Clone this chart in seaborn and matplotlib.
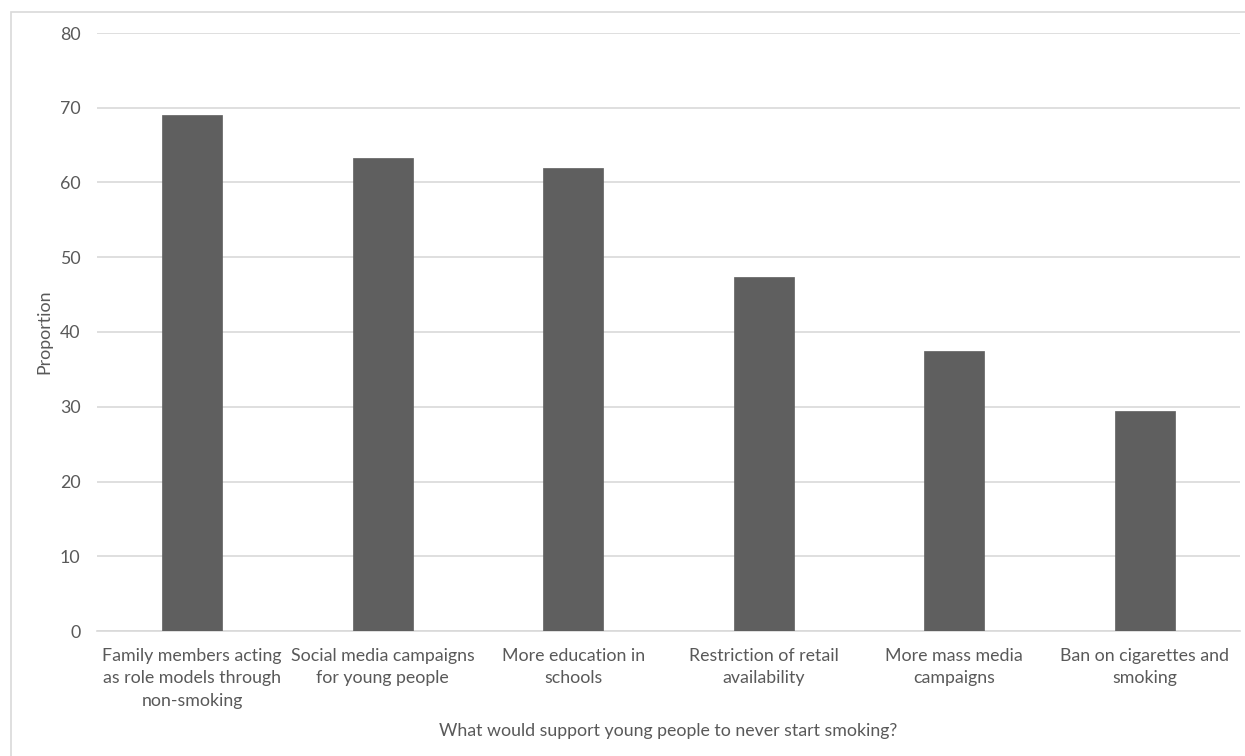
import matplotlib
matplotlib.use("Agg")
import matplotlib.pyplot as plt
import seaborn as sns
import pandas as pd
from matplotlib.patches import Rectangle

categories = [
    "Family members acting\nas role models through\nnon-smoking",
    "Social media campaigns\nfor young people",
    "More education in\nschools",
    "Restriction of retail\navailability",
    "More mass media\ncampaigns",
    "Ban on cigarettes and\nsmoking",
]
values = [69.0, 63.3, 61.9, 47.4, 37.5, 29.4]
y_ticks = [0, 10, 20, 30, 40, 50, 60, 70, 80]

sns.set_theme(style="white")
plt.rcParams["font.family"] = ["Lato", "DejaVu Sans"]

text_color = "#595959"
df = pd.DataFrame({"cat": categories, "val": values})

fig = plt.figure(figsize=(12.45, 7.56), dpi=100)
ax = fig.add_axes([97 / 1245, 1 - 631 / 756, (1240 - 97) / 1245, (631 - 33) / 756])

sns.barplot(data=df, x="cat", y="val", color="#5f5f5f", width=0.315, ax=ax,
            saturation=1, edgecolor="#5f5f5f", linewidth=0.5, zorder=3)

ax.set_ylim(0, 80)
ax.set_yticks(y_ticks)
ax.yaxis.grid(True, color="#d9d9d9", linewidth=1.2, zorder=0)
ax.set_axisbelow(True)
for s in ["top", "right", "left"]:
    ax.spines[s].set_visible(False)
ax.spines["bottom"].set_color("#d9d9d9")
ax.spines["bottom"].set_linewidth(1.2)

ax.tick_params(axis="y", length=0, pad=12, labelsize=12.8, labelcolor=text_color)
ax.tick_params(axis="x", length=0, pad=12, labelsize=12.8, labelcolor=text_color)
for lab in ax.get_xticklabels():
    lab.set_linespacing(1.5)

ax.set_xlabel("What would support young people to never start smoking?",
              fontsize=12.8, color=text_color, labelpad=10)
ax.set_ylabel("Proportion", fontsize=12.8, color=text_color, labelpad=5)

fig.patches.append(Rectangle((11 / 1245, -0.1), 1.2, 1 - 12 / 756 + 0.1,
                             transform=fig.transFigure, fill=False,
                             edgecolor="#d9d9d9", linewidth=1.2))

fig.savefig("out.png", dpi=100)
